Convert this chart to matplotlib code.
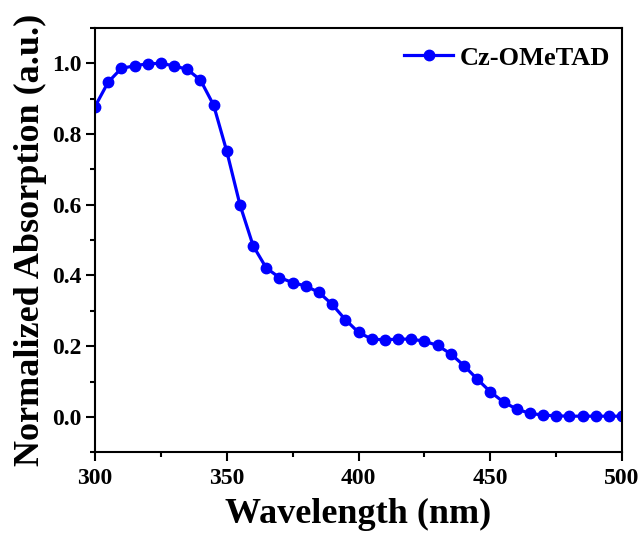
import numpy as np
import matplotlib
matplotlib.use('Agg')
import matplotlib.pyplot as plt
from matplotlib.ticker import MultipleLocator

# absorption spectrum (every 5 nm)
wavelength = np.arange(300, 505, 5)
absorption = [0.878, 0.947, 0.986, 0.993, 0.999, 1.000, 0.993, 0.983, 0.953, 0.882,
              0.751, 0.600, 0.484, 0.421, 0.394, 0.380, 0.370, 0.352, 0.318, 0.275,
              0.239, 0.220, 0.218, 0.220, 0.220, 0.214, 0.202, 0.178, 0.145, 0.107,
              0.071, 0.042, 0.022, 0.010, 0.005, 0.003, 0.002, 0.002, 0.002, 0.002,
              0.002]
label = 'Cz-OMeTAD'

plt.rcParams['font.family'] = 'Liberation Serif'
plt.rcParams['font.weight'] = 'bold'

fig = plt.figure(figsize=(6.42, 5.39), dpi=100)
ax = fig.add_axes([0.148, 0.161, 0.821, 0.787])

ax.plot(wavelength, absorption, '-o', color='#0000ff', lw=2.3, ms=7.5, label=label)

ax.set_xlim(300, 500)
ax.set_ylim(-0.1, 1.1)
ax.xaxis.set_major_locator(MultipleLocator(50))
ax.xaxis.set_minor_locator(MultipleLocator(25))
ax.set_yticks(np.arange(0, 1.01, 0.2))
ax.yaxis.set_minor_locator(MultipleLocator(0.1))

for sp in ax.spines.values():
    sp.set_linewidth(1.5)
ax.tick_params(which='major', direction='out', length=6.5, width=1.5, labelsize=17, pad=5)
ax.tick_params(axis='y', which='major', pad=3.5)
ax.tick_params(which='minor', direction='out', length=3.5, width=1.5)
for t in ax.get_xticklabels() + ax.get_yticklabels():
    t.set_fontweight('bold')

ax.set_xlabel('Wavelength (nm)', fontsize=26, fontweight='bold', labelpad=6)
ax.set_ylabel('Normalized Absorption (a.u.)', fontsize=26, fontweight='bold', labelpad=3)

leg = ax.legend(loc='upper right', bbox_to_anchor=(0.997, 0.982), borderaxespad=0,
                frameon=False, handlelength=1.85, handletextpad=0.25,
                prop={'weight': 'bold', 'size': 19})

fig.savefig('out.png', dpi=100)
